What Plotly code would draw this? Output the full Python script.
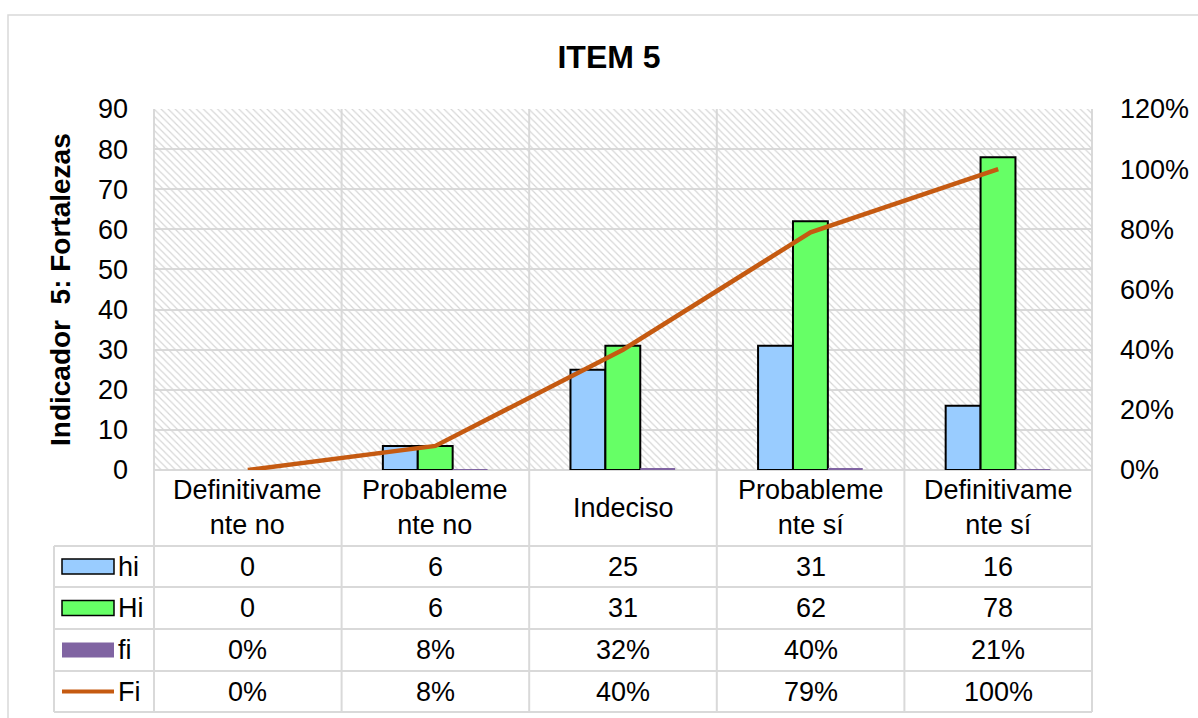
import plotly.graph_objects as go

# ---- data -------------------------------------------------------------
categories = ["Definitivamente no", "Probablemente no", "Indeciso",
              "Probablemente sí", "Definitivamente sí"]
header_labels = ["Definitivame<br>nte no", "Probableme<br>nte no", "Indeciso",
                 "Probableme<br>nte sí", "Definitivame<br>nte sí"]
hi = [0, 6, 25, 31, 16]
Hi = [0, 6, 31, 62, 78]
fi = [0.00, 0.08, 0.32, 0.40, 0.21]
Fi = [0.00, 0.08, 0.40, 0.79, 1.00]

series_names = ["hi", "Hi", "fi", "Fi"]
y_left_ticks = list(range(0, 91, 10))
y_right_ticks = [0, 0.2, 0.4, 0.6, 0.8, 1.0, 1.2]

# ---- styling ----------------------------------------------------------
FONT = "Liberation Sans, Arial, sans-serif"
C_HI = "#99CCFF"
C_HI_CUM = "#66FF66"
C_FI = "#8064A2"
C_FI_CUM = "#C55A11"
GRID = "#D9D9D9"
FS = 27

W, H = 1198, 718
L, R, T, B = 154, 1092, 109, 470  # plot area in pixels
PW, PH = R - L, B - T


def px_x(px):
    return (px - L) / PW


def px_y(py):
    return (B - py) / PH


Y_MAX = 90
BAR_W = 0.186
offsets = [-0.28, -0.094, 0.092]

fig = go.Figure()

# hatched plot-area background
fig.add_trace(go.Bar(
    x=categories, y=[Y_MAX] * len(categories), width=1.0, offset=-0.5,
    marker=dict(color="rgba(0,0,0,0)", line=dict(width=0),
                pattern=dict(shape="\\", size=5, solidity=0.24,
                             fgcolor="#D6D6D6", bgcolor="rgba(0,0,0,0)",
                             fillmode="replace")),
    hoverinfo="skip", showlegend=False,
))

for vals, color, off, lw, name in [
    (hi, C_HI, offsets[0], 2, "hi"),
    (Hi, C_HI_CUM, offsets[1], 2, "Hi"),
    (fi, C_FI, offsets[2], 0, "fi"),
]:
    fig.add_trace(go.Bar(
        x=categories, y=vals, width=BAR_W, offset=off, name=name,
        marker=dict(color=color,
                    line=dict(color="#000000", width=[lw if v > 0 else 0 for v in vals])),
        showlegend=False,
    ))

fig.add_trace(go.Scatter(
    x=categories, y=Fi, yaxis="y2", mode="lines", name="Fi",
    line=dict(color=C_FI_CUM, width=4.5), showlegend=False,
))

shapes = []
# outer chart border
shapes.append(dict(type="rect", xref="paper", yref="paper",
                   x0=px_x(8), x1=px_x(W + 6), y0=px_y(H + 6), y1=px_y(15),
                   line=dict(color=GRID, width=1.5), fillcolor="rgba(0,0,0,0)",
                   layer="below"))

# column boundaries (plot area + data table)
row_lines = [546, 587, 629, 671, 712]
n = len(categories)
for i in range(n + 1):
    xp = i / n
    shapes.append(dict(type="line", xref="paper", yref="paper",
                       x0=xp, x1=xp, y0=px_y(row_lines[-1]), y1=1,
                       line=dict(color=GRID, width=2), layer="below"))
# legend column left edge
shapes.append(dict(type="line", xref="paper", yref="paper",
                   x0=px_x(54), x1=px_x(54), y0=px_y(row_lines[0]),
                   y1=px_y(row_lines[-1]), line=dict(color=GRID, width=2)))
# table row lines
for ry in row_lines:
    shapes.append(dict(type="line", xref="paper", yref="paper",
                       x0=px_x(54), x1=1, y0=px_y(ry), y1=px_y(ry),
                       line=dict(color=GRID, width=2)))

# legend keys in the table
row_centers = [(row_lines[k] + row_lines[k + 1]) / 2 for k in range(4)]
sw_x0, sw_x1 = px_x(62), px_x(114)
for k, (color, outline) in enumerate([(C_HI, True), (C_HI_CUM, True), (C_FI, False)]):
    cy = row_centers[k]
    shapes.append(dict(type="rect", xref="paper", yref="paper",
                       x0=sw_x0, x1=sw_x1, y0=px_y(cy + 7.5), y1=px_y(cy - 7.5),
                       fillcolor=color,
                       line=dict(color="#000000" if outline else color,
                                 width=1.5 if outline else 0)))
shapes.append(dict(type="line", xref="paper", yref="paper",
                   x0=sw_x0, x1=sw_x1, y0=px_y(row_centers[3]), y1=px_y(row_centers[3]),
                   line=dict(color=C_FI_CUM, width=4)))

annotations = []
# y-axis title
annotations.append(dict(text="<b>Indicador  5: Fortalezas</b>", xref="paper", yref="paper",
                        x=px_x(60), y=px_y(290), textangle=-90, showarrow=False,
                        xanchor="center", yanchor="middle",
                        font=dict(family=FONT, size=28, color="#000000")))
# header row: category labels
for i, lab in enumerate(header_labels):
    annotations.append(dict(text=lab, xref="paper", yref="paper",
                            x=(i + 0.5) / n, y=px_y(508), showarrow=False,
                            xanchor="center", yanchor="middle",
                            font=dict(family=FONT, size=FS, color="#000000")))
# series names
for k, name in enumerate(series_names):
    annotations.append(dict(text=name, xref="paper", yref="paper",
                            x=px_x(116), y=px_y(row_centers[k]), showarrow=False,
                            xanchor="left", yanchor="middle",
                            font=dict(family=FONT, size=FS, color="#000000")))
# table values
rows = [
    [str(v) for v in hi],
    [str(v) for v in Hi],
    [f"{round(v * 100)}%" for v in fi],
    [f"{round(v * 100)}%" for v in Fi],
]
for k, row in enumerate(rows):
    for i, txt in enumerate(row):
        annotations.append(dict(text=txt, xref="paper", yref="paper",
                                x=(i + 0.5) / n, y=px_y(row_centers[k]), showarrow=False,
                                xanchor="center", yanchor="middle",
                                font=dict(family=FONT, size=FS, color="#000000")))

fig.update_layout(
    width=W, height=H,
    margin=dict(l=L, r=W - R, t=T, b=H - B, autoexpand=False),
    paper_bgcolor="white", plot_bgcolor="white",
    barmode="overlay",
    title=dict(text="<b>ITEM 5</b>", x=px_x(609), xref="paper", xanchor="center",
               y=1 - 57 / H, yref="container", yanchor="middle",
               font=dict(family=FONT, size=32, color="#000000")),
    xaxis=dict(type="category", showticklabels=False, showgrid=False, automargin=False,
               zeroline=False, showline=False, range=[-0.5, 4.5], fixedrange=True),
    yaxis=dict(range=[0, Y_MAX], tickvals=y_left_ticks, showgrid=True, automargin=False,
               gridcolor=GRID, gridwidth=2, zeroline=True, zerolinecolor=GRID,
               zerolinewidth=2, showline=False, ticks="", ticklabelstandoff=25,
               tickfont=dict(family=FONT, size=FS, color="#000000")),
    yaxis2=dict(range=[0, 1.2], tickvals=y_right_ticks, tickformat=".0%", automargin=False,
                overlaying="y", side="right", showgrid=False, zeroline=False,
                showline=False, ticks="", ticklabelstandoff=27,
                tickfont=dict(family=FONT, size=FS, color="#000000")),
    shapes=shapes,
    annotations=annotations,
    showlegend=False,
)

fig.write_html("out.html")
